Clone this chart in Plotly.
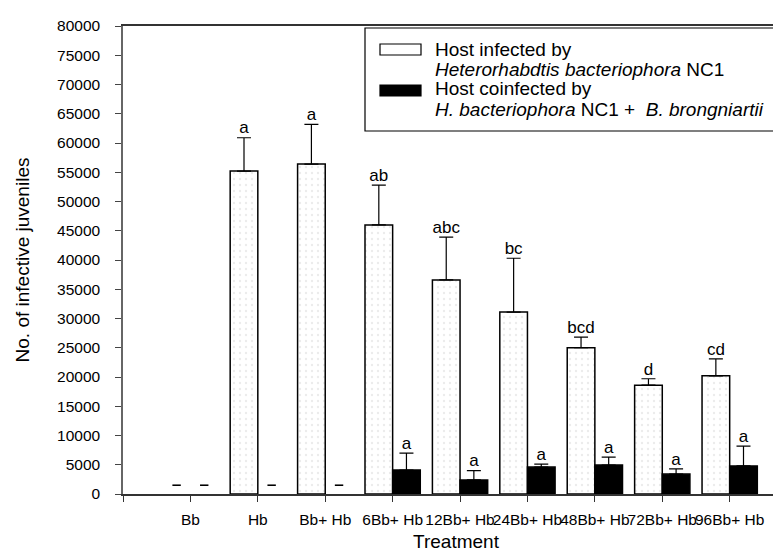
import plotly.graph_objects as go

categories = ["Bb", "Hb", "Bb+ Hb", "6Bb+ Hb", "12Bb+ Hb", "24Bb+ Hb", "48Bb+ Hb", "72Bb+ Hb", "96Bb+ Hb"]
infected = [None, 55200, 56400, 46000, 36600, 31100, 25000, 18600, 20200]
infected_err = [None, 5700, 6800, 6800, 7300, 9200, 1800, 1100, 2900]
infected_letters = ["", "a", "a", "ab", "abc", "bc", "bcd", "d", "cd"]
coinfected = [None, None, None, 4100, 2400, 4600, 4950, 3400, 4800]
coinfected_err = [None, None, None, 2900, 1600, 500, 1350, 900, 3400]
coinfected_letters = ["", "", "", "a", "a", "a", "a", "a", "a"]
yticks = list(range(0, 80001, 5000))

FONT = "Liberation Sans, Arial, sans-serif"
x = list(range(len(categories)))
BARGAP = 0.18
half = (1 - BARGAP) / 4  # offset of each bar centre from the group centre

fig = go.Figure()
fig.add_trace(go.Bar(
    x=x, y=infected, offsetgroup="a", name="infected",
    marker=dict(color="white", line=dict(color="black", width=1.5),
                pattern=dict(shape=".", fgcolor="#d8d8d8", bgcolor="white", size=6, solidity=0.12)),
    error_y=dict(type="data", array=infected_err, arrayminus=[0] * len(x), symmetric=False,
                 color="black", thickness=1.2, width=7),
))
fig.add_trace(go.Bar(
    x=x, y=coinfected, offsetgroup="b", name="coinfected",
    marker=dict(color="black", line=dict(color="black", width=1.5)),
    error_y=dict(type="data", array=coinfected_err, arrayminus=[0] * len(x), symmetric=False,
                 color="black", thickness=1.2, width=7),
))

# significance letters
for vals, errs, letters, off in [(infected, infected_err, infected_letters, -half),
                                 (coinfected, coinfected_err, coinfected_letters, half)]:
    xs, ys, ts = [], [], []
    for i, (v, e, t) in enumerate(zip(vals, errs, letters)):
        if v is not None and t:
            xs.append(i + off)
            ys.append(v + e)
            ts.append(t)
    fig.add_trace(go.Scatter(x=xs, y=ys, text=ts, mode="text", textposition="top center",
                             textfont=dict(family=FONT, size=17, color="black"), hoverinfo="skip"))

# dashes for missing values
dx, dy = [], []
for vals, off in [(infected, -half), (coinfected, half)]:
    for i, v in enumerate(vals):
        if v is None:
            dx.append(i + off)
            dy.append(1500)
fig.add_trace(go.Scatter(x=dx, y=dy, mode="markers",
                         marker=dict(symbol="line-ew", size=6, line=dict(color="black", width=1.6)),
                         hoverinfo="skip"))

# custom legend
L, R, T, B = 115, 781, 18, 486
def px(v):
    return (v - L) / (R - L)
def py(v):
    return (B - v) / (B - T)

shapes = [
    dict(type="rect", xref="paper", yref="paper", x0=px(357), x1=1.2, y0=py(123), y1=py(20),
         line=dict(color="black", width=1.2), fillcolor="white", layer="above"),
    dict(type="rect", xref="paper", yref="paper", x0=px(372), x1=px(413), y0=py(47), y1=py(36),
         line=dict(color="black", width=1.2), fillcolor="white", layer="above"),
    dict(type="rect", xref="paper", yref="paper", x0=px(372), x1=px(413), y0=py(88), y1=py(77),
         line=dict(color="black", width=1.2), fillcolor="black", layer="above"),
]
legend_lines = ["Host infected by",
                "<i>Heterorhabdtis bacteriophora</i> NC1",
                "Host coinfected by",
                "<i>H. bacteriophora</i> NC1 +  <i>B. brongniartii</i>"]
annotations = []
for k, t in enumerate(legend_lines):
    annotations.append(dict(xref="paper", yref="paper", x=px(425), y=py(41 + 20 * k), text=t,
                            showarrow=False, xanchor="left", yanchor="middle",
                            font=dict(family=FONT, size=19, color="black")))

fig.update_layout(
    width=781, height=551,
    margin=dict(l=L, r=0, t=T, b=551 - B),
    paper_bgcolor="white", plot_bgcolor="white",
    barmode="group", bargap=BARGAP, bargroupgap=0,
    showlegend=False,
    font=dict(family=FONT, size=15, color="black"),
    shapes=shapes, annotations=annotations,
)
fig.update_xaxes(
    range=[-1, 8.88], tickvals=[-1] + x, ticktext=[""] + categories, tickangle=0,
    showline=True, linecolor="#333", linewidth=1.5, mirror=True,
    ticks="outside", ticklen=6, tickcolor="#333", tickwidth=1.2,
    showgrid=False, zeroline=False, ticklabelstandoff=5,
    tickfont=dict(family=FONT, size=15.5),
    title=dict(text="Treatment", font=dict(family=FONT, size=19), standoff=7),
)
fig.update_yaxes(
    range=[0, 80000], tickvals=yticks, ticktext=[str(v) for v in yticks],
    showline=True, linecolor="#666", linewidth=1.5,
    ticks="outside", ticklen=6, tickcolor="#444", tickwidth=1.2,
    showgrid=False, zeroline=False, ticklabelstandoff=12,
    tickfont=dict(family=FONT, size=15.5),
    title=dict(text="No. of infective juveniles", font=dict(family=FONT, size=19), standoff=22),
)

fig.write_html("out.html")
